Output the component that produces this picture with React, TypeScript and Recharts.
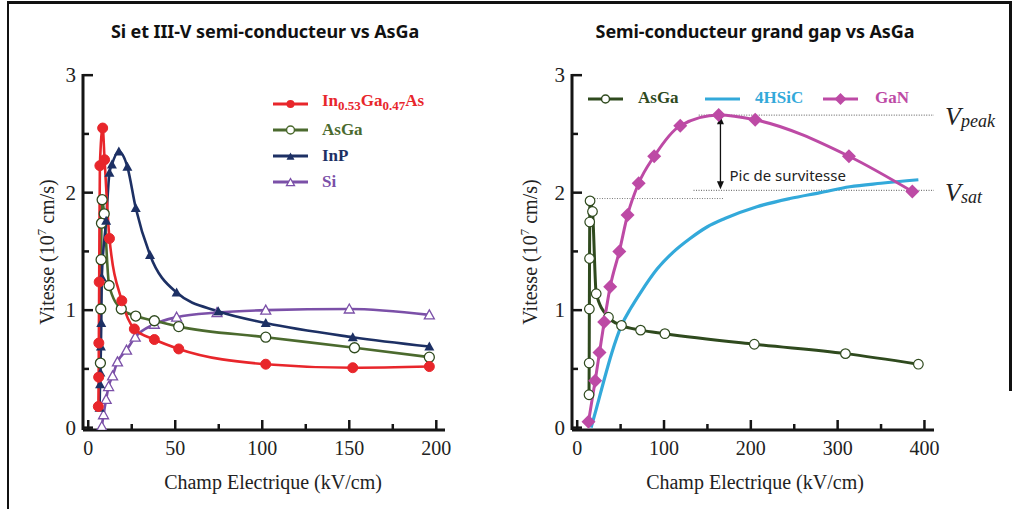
import React from 'react';
import { LineChart, Line, XAxis, YAxis, ReferenceLine } from 'recharts';

type P = [number, number];

// [champ kV/cm, vitesse 1e7 cm/s]
const inGaAs: P[] = [[5.8, 0.18], [6.0, 0.43], [6.1, 0.72], [6.3, 1.24], [6.7, 2.23], [8.3, 2.55], [9.4, 2.28], [12.2, 1.61], [19.3, 1.08], [26.5, 0.84], [38, 0.75], [52, 0.67], [102, 0.54], [152, 0.51], [196, 0.52]];
const asGaL: P[] = [[7.0, 0.55], [7.2, 1.01], [7.4, 1.43], [7.6, 1.74], [8.0, 1.94], [9.2, 1.82], [12, 1.21], [19, 1.01], [27.3, 0.95], [38, 0.91], [52, 0.86], [102, 0.77], [153, 0.68], [196, 0.6]];
const inP: P[] = [[6.5, 0.17], [6.8, 0.37], [7.0, 0.47], [7.3, 0.69], [7.5, 0.89], [7.8, 1.28], [10.3, 1.76], [12.2, 2.17], [13.6, 2.24], [17.6, 2.35], [22.5, 2.22], [27.3, 1.87], [35.5, 1.47], [50.8, 1.15], [74.7, 0.99], [102, 0.89], [152, 0.77], [196, 0.69]];
const si: P[] = [[7.8, 0.01], [8.8, 0.11], [10.3, 0.24], [11.7, 0.35], [14, 0.44], [16.8, 0.56], [22, 0.66], [27, 0.77], [38, 0.88], [50.8, 0.94], [74, 0.98], [102, 1.0], [150, 1.01], [196, 0.96]];

const asGaR: P[] = [[13.6, 0.28], [13.8, 0.55], [14.0, 1.01], [14.2, 1.44], [14.4, 1.75], [14.8, 1.93], [17.6, 1.84], [21.9, 1.14], [36, 0.94], [51, 0.87], [73, 0.83], [101, 0.8], [204, 0.71], [309, 0.63], [393, 0.54]];
const sic4h: P[] = [[16, 0], [22, 0.16], [30, 0.38], [40, 0.64], [51, 0.87], [62, 1.02], [73, 1.15], [92, 1.35], [110, 1.49], [130, 1.61], [150, 1.71], [170, 1.78], [207, 1.88], [245, 1.95], [280, 2.0], [314, 2.05], [350, 2.08], [393, 2.11]];
const gan: P[] = [[13, 0.05], [20.7, 0.4], [25.7, 0.64], [31.1, 0.9], [38, 1.2], [48.5, 1.5], [58, 1.81], [70.8, 2.08], [88.7, 2.31], [118.7, 2.57], [163, 2.66], [205, 2.62], [313, 2.31], [386, 2.01]];

const vPeak = 2.66;
const vSat = 2.02;
const asGaPeak = 1.95;
const arrowX = 165;

const leftXTicks = [0, 25, 50, 75, 100, 125, 150, 175, 200];
const leftTopTicks = [7, 25, 50, 75, 100, 125, 150, 175, 200];
const rightXTicks = [0, 50, 100, 150, 200, 250, 300, 350, 400];
const rightTopTicks = [13, 50, 100, 150, 200, 250, 300, 350, 400];
const yTicks = [0, 0.5, 1, 1.5, 2, 2.5, 3];

const titles = ['Si et III-V semi-conducteur vs AsGa', 'Semi-conducteur grand gap vs AsGa'];

const RED = '#e8262b';
const GREEN = '#4b6a2e';
const DKGREEN = '#2f4a1e';
const NAVY = '#1d3064';
const PURPLE = '#7b50a8';
const MAGENTA = '#bd4aa5';
const BLUE = '#33a9da';
const AX = '#151515';
const SERIF = "'Liberation Serif', serif";
const SANS = "'Noto Sans', sans-serif";

const toData = (pts: P[]) => pts.map(([x, y]) => ({ x, y }));

const tri = (cx: number, cy: number, s = 5.5) =>
  `M${cx},${cy - s} L${cx + s},${cy + s * 0.8} L${cx - s},${cy + s * 0.8} Z`;
const diamond = (cx: number, cy: number, s = 7) =>
  `M${cx},${cy - s} L${cx + s},${cy} L${cx},${cy + s} L${cx - s},${cy} Z`;

const BottomTick = (p: any) => {
  const v = p.payload.value;
  const major = p.isMajor(v);
  return (
    <g>
      <line x1={p.x} x2={p.x} y1={p.y} y2={p.y - (major ? 10 : 6)} stroke={AX} strokeWidth={2.5} />
      {p.showLabel && major && (
        <text x={p.x} y={p.y + 25} textAnchor="middle" fontFamily={SERIF} fontSize={20} fill="#222">{v}</text>
      )}
    </g>
  );
};
const TopTick = (p: any) => {
  const major = p.isMajor(p.payload.value);
  return <line x1={p.x} x2={p.x} y1={p.y} y2={p.y + (major ? 10 : 6)} stroke={AX} strokeWidth={2.5} />;
};
const LeftTick = (p: any) => {
  const v = p.payload.value;
  const major = Number.isInteger(v);
  return (
    <g>
      <line x1={p.x} x2={p.x + (major ? 10 : 6)} y1={p.y} y2={p.y} stroke={AX} strokeWidth={2.5} />
      {major && (
        <text x={p.x - 7} y={p.y + 7} textAnchor="end" fontFamily={SERIF} fontSize={21} fill="#222">{v}</text>
      )}
    </g>
  );
};
const RightTick = (p: any) => {
  const major = Number.isInteger(p.payload.value);
  return <line x1={p.x} x2={p.x - (major ? 10 : 6)} y1={p.y} y2={p.y} stroke={AX} strokeWidth={2.5} />;
};

const yTitle = (dx: number) => (props: any) => {
  const vb = props.viewBox;
  const x = vb.x + dx;
  const y = vb.y + vb.height / 2;
  return (
    <text transform={`rotate(-90 ${x} ${y})`} x={x} y={y + 7} textAnchor="middle" fontFamily={SERIF} fontSize={20} fill="#222">
      Vitesse (10<tspan dy={-8} fontSize={13}>7</tspan><tspan dy={8}> cm/s)</tspan>
    </text>
  );
};
const xTitle = (dx: number) => (props: any) => {
  const vb = props.viewBox;
  return (
    <text x={vb.x + vb.width / 2 + dx} y={vb.y + 59} textAnchor="middle" fontFamily={SERIF} fontSize={20} fill="#222">
      Champ Electrique (kV/cm)
    </text>
  );
};

const vLabel = (sub: string, shift: number) => (props: any) => {
  const vb = props.viewBox;
  const x = vb.x + vb.width + 11;
  const y = vb.y + shift;
  return (
    <text x={x} y={y} fontFamily={SERIF} fontStyle="italic" fill="#222">
      <tspan fontSize={26}>V</tspan>
      <tspan fontSize={18} dy={2}>{sub}</tspan>
    </text>
  );
};

const Arrow = (p: any) => {
  const x = p.x1;
  const top = Math.min(p.y1, p.y2);
  const bot = Math.max(p.y1, p.y2);
  return (
    <g>
      <line x1={x} x2={x} y1={top + 6} y2={bot - 6} stroke="#111" strokeWidth={1.3} />
      <path d={`M${x},${top} L${x - 3.5},${top + 8} L${x + 3.5},${top + 8} Z`} fill="#111" />
      <path d={`M${x},${bot} L${x - 3.5},${bot - 8} L${x + 3.5},${bot - 8} Z`} fill="#111" />
      <text x={x + 9} y={bot - 8} fontFamily={SANS} fontSize={15} fill="#222">Pic de survitesse</text>
    </g>
  );
};

function Frame({ xDomain, xTicks, topTicks, isMajor, dxTitle, dyTitle }: any) {
  return (
    <>
      <XAxis dataKey="x" type="number" domain={xDomain} allowDataOverflow ticks={xTicks} interval={0}
        height={79} tickSize={0} tickMargin={0} axisLine={{ stroke: AX, strokeWidth: 3 }} tickLine={false}
        tick={(p: any) => <BottomTick {...p} isMajor={isMajor} showLabel />} label={{ content: xTitle(dxTitle) }} />
      <XAxis xAxisId="top" orientation="top" dataKey="x" type="number" domain={xDomain} allowDataOverflow ticks={topTicks}
        interval={0} height={0} tickSize={0} tickMargin={0} axisLine={{ stroke: AX, strokeWidth: 3 }} tickLine={false}
        tick={(p: any) => <TopTick {...p} isMajor={isMajor} />} />
      <YAxis type="number" domain={[-0.02, 3.01]} allowDataOverflow ticks={yTicks} interval={0} width={dyTitle.w}
        tickSize={0} tickMargin={0} axisLine={{ stroke: AX, strokeWidth: 3 }} tickLine={false}
        tick={(p: any) => <LeftTick {...p} />} label={{ content: yTitle(dyTitle.dx) }} />
      <YAxis yAxisId="r" orientation="right" type="number" domain={[-0.02, 3.01]} allowDataOverflow ticks={yTicks}
        interval={0} width={0} tickSize={0} tickMargin={0} axisLine={{ stroke: AX, strokeWidth: 3 }} tickLine={false}
        tick={(p: any) => <RightTick {...p} />} />
    </>
  );
}

const LegendMark = ({ color, kind, w = 35 }: { color: string; kind: string; w?: number }) => (
  <svg width={w} height={14} style={{ display: 'block' }}>
    <line x1={0} x2={w} y1={7} y2={7} stroke={color} strokeWidth={3} />
    {kind === 'dot' && <circle cx={w / 2} cy={7} r={4} fill={color} />}
    {kind === 'ring' && <circle cx={w / 2} cy={7} r={4} fill="#fff" stroke={color} strokeWidth={1.5} />}
    {kind === 'tri' && <path d={tri(w / 2, 7.5, 4)} fill={color} />}
    {kind === 'otri' && <path d={tri(w / 2, 7.5, 4)} fill="#fff" stroke={color} strokeWidth={1.3} />}
    {kind === 'diamond' && <path d={diamond(w / 2, 7, 6)} fill={color} />}
  </svg>
);

const legendText: React.CSSProperties = { fontFamily: SERIF, fontWeight: 700, fontSize: 17, lineHeight: '20px' };

export default function App() {
  return (
    <div style={{ position: 'absolute', left: 0, top: 0, width: 1016, height: 509, background: '#fff', overflow: 'hidden' }}>
      <div style={{ position: 'absolute', left: 7, top: 1, width: 1003, height: 600, borderLeft: '2.5px solid #111', borderTop: '3px solid #111' }} />
      <div style={{ position: 'absolute', left: 1009, top: 1, width: 3, height: 390, background: '#111' }} />

      {titles.map((t, i) => (
        <div key={t} style={{ position: 'absolute', left: i === 0 ? 265 : 755, top: 18, transform: 'translateX(-50%)', whiteSpace: 'nowrap', fontFamily: SANS, fontWeight: 700, fontSize: 18, letterSpacing: '-0.1px', lineHeight: '26px', color: '#111' }}>{t}</div>
      ))}

      <div style={{ position: 'absolute', left: 0, top: 0 }}>
        <LineChart width={500} height={509} margin={{ top: 74, right: 55, bottom: 0, left: 0 }}>
          {Frame({ xDomain: [-3, 205], xTicks: leftXTicks, topTicks: leftTopTicks, isMajor: (v: number) => v % 50 !== 25, dxTitle: 9, dyTitle: { w: 83, dx: 47 } })}
          <Line data={toData(si)} dataKey="y" type="monotone" stroke={PURPLE} strokeWidth={2.6} isAnimationActive={false} activeDot={false}
            dot={(p: any) => <path key={p.index} d={tri(p.cx, p.cy, 5)} fill="#fff" stroke={PURPLE} strokeWidth={1.3} />} />
          <Line data={toData(asGaL)} dataKey="y" type="monotone" stroke={GREEN} strokeWidth={2.6} isAnimationActive={false} activeDot={false}
            dot={{ r: 5, fill: '#fff', stroke: DKGREEN, strokeWidth: 1.3 }} />
          <Line data={toData(inP)} dataKey="y" type="monotone" stroke={NAVY} strokeWidth={2.6} isAnimationActive={false} activeDot={false}
            dot={(p: any) => <path key={p.index} d={tri(p.cx, p.cy, 5)} fill={NAVY} />} />
          <Line data={toData(inGaAs)} dataKey="y" type="monotone" stroke={RED} strokeWidth={2.6} isAnimationActive={false} activeDot={false}
            dot={{ r: 5, fill: RED, stroke: RED, strokeWidth: 1 }} />
        </LineChart>
      </div>

      <div style={{ position: 'absolute', left: 500, top: 0 }}>
        <LineChart width={516} height={509} margin={{ top: 74, right: 82, bottom: 0, left: 0 }}>
          {Frame({ xDomain: [-6, 411], xTicks: rightXTicks, topTicks: rightTopTicks, isMajor: (v: number) => v % 100 !== 50, dxTitle: 2, dyTitle: { w: 72, dx: 30 } })}
          <ReferenceLine segment={[{ x: 17, y: asGaPeak }, { x: 168, y: asGaPeak }]} stroke="#777" strokeDasharray="1 1.5" strokeWidth={1} />
          <ReferenceLine segment={[{ x: 134, y: vSat }, { x: 411, y: vSat }]} stroke="#555" strokeDasharray="1 1.5" strokeWidth={1}
            label={vLabel('sat', 11)} />
          <ReferenceLine segment={[{ x: 140, y: vPeak }, { x: 411, y: vPeak }]} stroke="#555" strokeDasharray="1 1.5" strokeWidth={1}
            label={vLabel('peak', 10)} />
          <ReferenceLine segment={[{ x: arrowX, y: vPeak - 0.01 }, { x: arrowX, y: vSat + 0.01 }]} shape={(p: any) => <Arrow {...p} />} />
          <Line data={toData(sic4h)} dataKey="y" type="monotone" stroke={BLUE} strokeWidth={3.2} isAnimationActive={false} activeDot={false} dot={false} />
          <Line data={toData(asGaR)} dataKey="y" type="monotone" stroke={DKGREEN} strokeWidth={3} isAnimationActive={false} activeDot={false}
            dot={{ r: 4.8, fill: '#fff', stroke: DKGREEN, strokeWidth: 1.2 }} />
          <Line data={toData(gan)} dataKey="y" type="monotone" stroke={MAGENTA} strokeWidth={3} isAnimationActive={false} activeDot={false}
            dot={(p: any) => <path key={p.index} d={diamond(p.cx, p.cy, 7)} fill={MAGENTA} />} />
        </LineChart>
      </div>

      {/* left legend */}
      <div style={{ position: 'absolute', left: 273, top: 91 }}>
        {[
          { c: RED, k: 'dot', name: null },
          { c: GREEN, k: 'ring', name: 'AsGa' },
          { c: NAVY, k: 'tri', name: 'InP' },
          { c: PURPLE, k: 'otri', name: 'Si' },
        ].map((r, i) => (
          <div key={i} style={{ display: 'flex', alignItems: 'center', height: 26 }}>
            <LegendMark color={r.c} kind={r.k} />
            <span style={{ ...legendText, color: r.c, marginLeft: 14 }}>
              {r.name ?? (<>In<sub style={{ fontSize: 13 }}>0.53</sub>Ga<sub style={{ fontSize: 13 }}>0.47</sub>As</>)}
            </span>
          </div>
        ))}
      </div>

      {/* right legend */}
      {[
        { c: DKGREEN, k: 'ring', name: 'AsGa', x: 588, tx: 638 },
        { c: BLUE, k: 'line', name: '4HSiC', x: 705, tx: 755 },
        { c: MAGENTA, k: 'diamond', name: 'GaN', x: 823, tx: 875 },
      ].map((r) => (
        <React.Fragment key={r.name}>
          <div style={{ position: 'absolute', left: r.x, top: 92 }}><LegendMark color={r.c} kind={r.k} /></div>
          <div style={{ position: 'absolute', left: r.tx, top: 88, ...legendText, color: r.c }}>{r.name}</div>
        </React.Fragment>
      ))}
    </div>
  );
}
